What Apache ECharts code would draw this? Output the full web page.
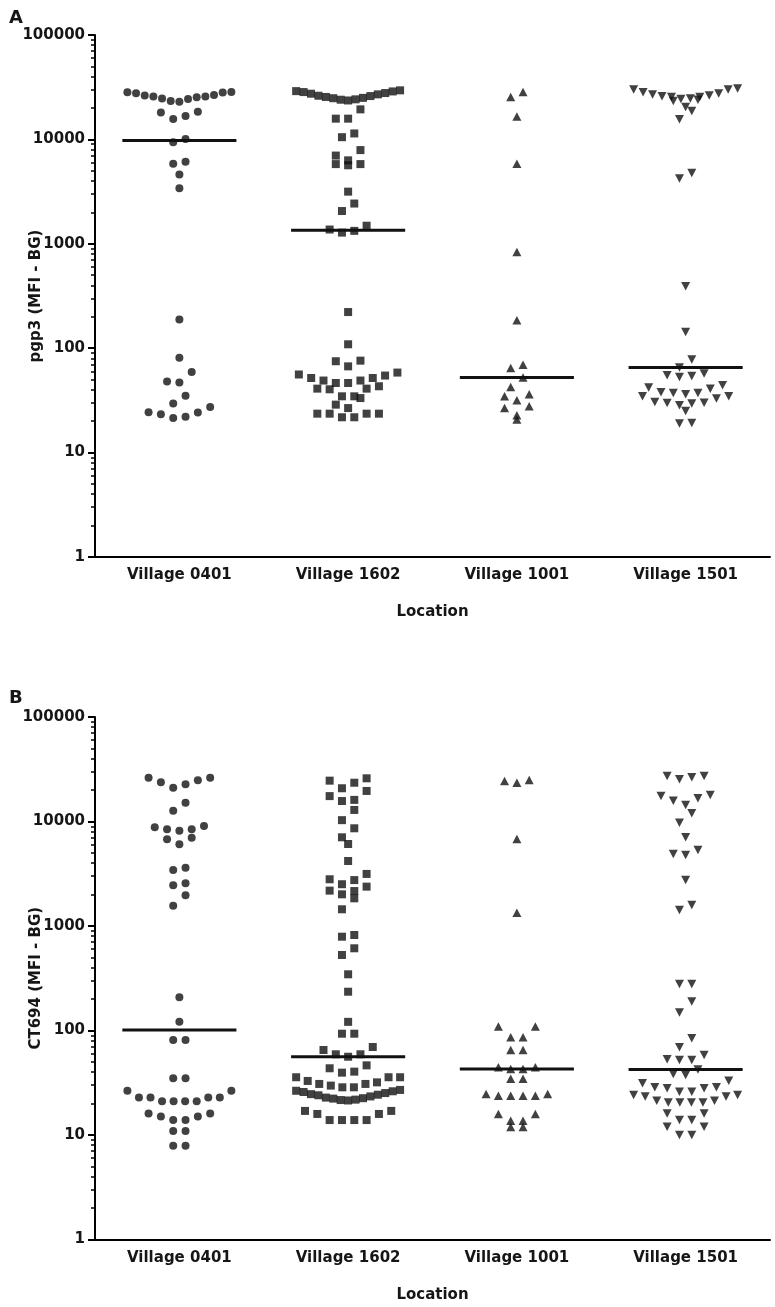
<!DOCTYPE html>
<html>
<head>
<meta charset="utf-8">
<script src="https://cdn.jsdelivr.net/npm/echarts@6.0.0/dist/echarts.min.js"></script>
<style>
  html, body { margin: 0; padding: 0; background: #fff; }
  #chart { width: 775px; height: 1307px; }
</style>
</head>
<body>
<div id="chart"></div>
<script>
  "use strict";

  // categories and tick labels
  const categories = ["Village 0401", "Village 1602", "Village 1001", "Village 1501"];
  const yTickValues = [1, 10, 100, 1000, 10000, 100000];

  // panel A: pgp3 (MFI - BG)
  const pgp3V0401 = [28500, 28200, 26400, 25800, 25300, 24400, 22900, 23300, 24600, 25800, 26600, 27600, 28300,
    18400, 16800, 15700, 18100, 10100, 9400, 6100, 5850, 4600, 3400,
    188, 81, 59, 47, 48, 35, 29.5, 24.2, 23.3, 21.5, 22.1, 24.3, 27.3];
  const pgp3V1602 = [29500, 29000, 28400, 27800, 27000, 26200, 25500, 24800, 24200, 23600, 24000, 25000, 26000, 27400, 28800,
    19400, 15800, 15800, 11400, 10500, 7900, 7000, 6300, 5800, 5800, 5650, 3160, 2430, 2060, 1490, 1330, 1280, 1370,
    222, 109, 67, 75, 76, 56, 54.7, 58.4, 51.8, 49, 46.4, 46.4, 49, 51.8, 41, 40.4, 41, 43.2,
    34.6, 33.3, 34.6, 28.8, 26.7, 23.6, 23.6, 21.8, 21.8, 23.6, 23.6];
  const pgp3V1001 = [28400, 25500, 16600, 5860, 834, 185, 64.6, 69.6, 52.3, 42.5, 36.2, 34.6, 31.7, 26.7, 27.8, 22.8, 20.7];
  const pgp3V1501 = [30000, 27500, 26400, 25500, 24600, 24000, 23300, 24400, 25500, 25900, 26900, 28300, 30700, 30000,
    20400, 18700, 15600, 4770, 4210, 392, 143, 77.8, 65.2, 57.1, 54.2, 53, 55,
    44.1, 41, 37.2, 36.2, 34.6, 34.6, 37.2, 37.8, 42, 30.1, 29.5, 28.4, 25, 29.9, 30.5, 32.9, 19.2, 19];

  // panel B: CT694 (MFI - BG)
  const ct694V0401 = [26200, 23700, 21000, 22700, 24800, 26200, 15100, 12700, 9060, 8420, 8160, 8420, 8810,
    6760, 6050, 7000, 3430, 3610, 2560, 2450, 1970, 1560, 208, 121, 81, 81, 35, 35,
    26.5, 22.9, 22.9, 21, 21, 21, 21, 22.9, 22.9, 26.5, 16.1, 13.9, 15, 15, 16.1, 13.9, 10.9, 10.9, 7.9, 7.9];
  const ct694V1602 = [25900, 23500, 24600, 20800, 19600, 16100, 17500, 15700, 12900, 10300, 8610, 7060, 6090, 4190,
    3150, 2750, 2800, 2380, 2160, 2010, 1840, 2180, 2510, 1445, 820, 790, 612, 528, 345, 235, 121, 93.2, 93.2,
    69.5, 59.2, 59.2, 65.1, 56.1, 46.4, 40.4, 39.5, 43.5, 35.7, 32.9, 30.8, 29.7, 28.6, 28.6, 30.8, 31.9, 35.7, 35.7,
    27, 26.5, 25.8, 25.2, 24.6, 24, 23.4, 22.8, 22.3, 21.8, 21.4, 21.6, 22.5, 24.3, 26.2,
    17, 15.9, 13.9, 13.9, 13.9, 13.9, 15.9, 17];
  const ct694V1001 = [24900, 23500, 24400, 6800, 1340, 109, 109, 86, 86, 65, 65, 44.5, 42.8, 42.8, 44.5, 34.5, 34.5,
    24.7, 23.8, 23.8, 23.8, 23.8, 24.7, 13.7, 15.9, 15.9, 13.7, 11.9, 11.9];
  const ct694V1501 = [27200, 26500, 25300, 27200, 17900, 16700, 14400, 15800, 17500, 12000, 9750, 7060, 4890, 4780, 5340,
    2750, 1590, 1420, 279, 279, 189, 149, 84.2, 69, 58.3, 52.2, 52.2, 53, 42.3, 37.5, 38.3,
    33.1, 31.2, 28.6, 28, 28, 28.6, 26, 24.1, 23.3, 21.3, 20.5, 20.5, 20.5, 20.5, 21.3, 23.3, 24.1, 26,
    16.1, 16.1, 12, 13.9, 13.9, 12, 10, 10];

  const pgp3Groups = [pgp3V0401, pgp3V1602, pgp3V1001, pgp3V1501];
  const ct694Groups = [ct694V0401, ct694V1602, ct694V1001, ct694V1501];

  // layout of the dot columns (x in category units, rows in decades)
  const ROW_H = 0.105;
  const STEP = 0.073;
  const MAX_SPAN = 0.616;
  const MEDIAN_HALF = 0.338;
  const INK = "#111";
  const TEXT = "#161616";
  const FONT = "DejaVu Sans";

  // GraphPad-like column scatter: bin into rows, spread each row around the center
  function swarm(values, catIndex) {
    const pts = values.map(function (v) { return { v: v, l: Math.log10(v) }; })
      .sort(function (a, b) { return b.l - a.l; });
    const rows = [];
    let cur = null;
    pts.forEach(function (p) {
      if (!cur || cur.top - p.l > ROW_H) {
        cur = { top: p.l, items: [] };
        rows.push(cur);
      }
      cur.items.push(p);
    });
    const out = [];
    rows.forEach(function (r) {
      const n = r.items.length;
      const step = n > 1 ? Math.min(STEP, MAX_SPAN / (n - 1)) : 0;
      const slots = [];
      for (let i = 0; i < n; i++) slots.push((i - (n - 1) / 2) * step);
      slots.sort(function (a, b) { return (Math.abs(a) - Math.abs(b)) || (a - b); });
      const asc = r.items.slice().sort(function (a, b) { return a.v - b.v; });
      asc.forEach(function (p, i) { out.push([catIndex + slots[i], p.v]); });
    });
    return out;
  }

  function median(values) {
    const s = values.slice().sort(function (a, b) { return a - b; });
    const m = Math.floor(s.length / 2);
    return s.length % 2 ? s[m] : (s[m - 1] + s[m]) / 2;
  }

  const minorTicks = [];
  for (let d = 0; d < 5; d++) {
    for (let k = 2; k <= 9; k++) minorTicks.push(k * Math.pow(10, d));
  }

  const symbolStyles = [
    { symbol: "circle", symbolSize: 8, symbolRotate: 0 },
    { symbol: "rect", symbolSize: 8, symbolRotate: 0 },
    { symbol: "triangle", symbolSize: [9, 8.5], symbolRotate: 0 },
    { symbol: "triangle", symbolSize: [9, 8.5], symbolRotate: 180 }
  ];

  const grids = [
    { left: 95, top: 35, width: 675, height: 522, outerBoundsMode: "none" },
    { left: 95, top: 717, width: 675, height: 522.5, outerBoundsMode: "none" }
  ];
  const yNames = ["pgp3 (MFI - BG)", "CT694 (MFI - BG)"];
  const panels = [pgp3Groups, ct694Groups];

  const xAxis = [];
  const yAxis = [];
  const series = [];

  panels.forEach(function (groups, g) {
    // visible category axis
    xAxis.push({
      type: "category", gridIndex: g, data: categories, position: "bottom",
      name: "Location", nameLocation: "middle", nameGap: 48, nameMoveOverlap: false,
      nameTextStyle: { fontFamily: FONT, fontWeight: "bold", fontSize: 15, color: TEXT },
      axisLine: { onZero: false, lineStyle: { color: "#000", width: 2 } },
      axisTick: { alignWithLabel: true, length: 6, lineStyle: { color: "#000", width: 2 } },
      axisLabel: { fontFamily: FONT, fontWeight: "bold", fontSize: 15, color: TEXT, margin: 11 },
      splitLine: { show: false }
    });
    // hidden value axis that carries the dots
    xAxis.push({ type: "value", gridIndex: g, min: -0.5, max: 3.5, show: false, axisLine: { onZero: false } });

    yAxis.push({
      type: "log", logBase: 10, gridIndex: g, min: 1, max: 100000, position: "left",
      name: yNames[g], nameLocation: "middle", nameGap: 51, nameMoveOverlap: false,
      nameTextStyle: { fontFamily: FONT, fontWeight: "bold", fontSize: 15, color: TEXT },
      axisLine: { show: true, onZero: false, lineStyle: { color: "#000", width: 2 } },
      axisTick: { show: true, length: 7, customValues: yTickValues, lineStyle: { color: "#000", width: 2 } },
      axisLabel: {
        customValues: yTickValues, margin: 10,
        fontFamily: FONT, fontWeight: "bold", fontSize: 15, color: TEXT,
        formatter: function (v) { return String(Math.round(v)); }
      },
      splitLine: { show: false }
    });
    // minor ticks only
    yAxis.push({
      type: "log", logBase: 10, gridIndex: g, min: 1, max: 100000, position: "left", offset: 0,
      axisLine: { show: false, onZero: false },
      axisTick: { show: true, length: 4, customValues: minorTicks, lineStyle: { color: "#000", width: 1.5 } },
      axisLabel: { show: false },
      splitLine: { show: false }
    });

    groups.forEach(function (values, i) {
      const st = symbolStyles[i];
      series.push({
        type: "scatter",
        xAxisIndex: g * 2 + 1, yAxisIndex: g * 2,
        symbol: st.symbol, symbolSize: st.symbolSize, symbolRotate: st.symbolRotate,
        itemStyle: { color: INK },
        data: swarm(values, i),
        silent: true, z: 3
      });
      const med = median(values);
      series.push({
        type: "line",
        xAxisIndex: g * 2 + 1, yAxisIndex: g * 2,
        data: [[i - MEDIAN_HALF, med], [i + MEDIAN_HALF, med]],
        symbol: "none",
        lineStyle: { color: INK, width: 3 },
        silent: true, z: 2
      });
    });
  });

  const chart = echarts.init(document.getElementById("chart"), null, { renderer: "canvas" });
  chart.setOption({
    animation: false,
    backgroundColor: "#fff",
    title: [
      { text: "A", left: 4, top: 4, textStyle: { fontFamily: FONT, fontWeight: "bold", fontSize: 18, color: TEXT } },
      { text: "B", left: 4, top: 684, textStyle: { fontFamily: FONT, fontWeight: "bold", fontSize: 18, color: TEXT } }
    ],
    grid: grids,
    xAxis: xAxis,
    yAxis: yAxis,
    series: series
  });
</script>
</body>
</html>
